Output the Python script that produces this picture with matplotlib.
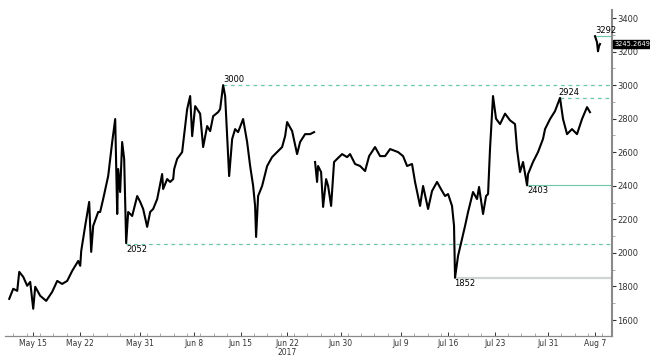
import numpy as np
import pandas as pd
import matplotlib
matplotlib.use("Agg")
import matplotlib.pyplot as plt
import matplotlib.dates as mdates

# %% data (days counted from 2017-05-15, price in USD)
base = pd.Timestamp("2017-05-15")
nan = np.nan

days = [-3.59, -2.99, -2.39, -2.09, -1.49, -0.90, -0.45, 0.00, 0.30, 1.05,
        1.94, 2.84, 3.59, 4.33, 5.08, 5.83, 6.73, 7.03, 7.18, 7.77,
        8.37, 8.67, 8.97, 9.72, 10.01, 10.46, 11.21, 11.81, 12.26, 12.56,
        12.71, 13.00, 13.30, 13.60, 13.90, 14.20, 14.80, 15.55, 16.00, 16.44,
        17.04, 17.49, 17.94, 18.54, 19.28, 19.43, 20.03, 20.48, 20.93, 21.08,
        21.52, 22.27, 22.72, 23.02, 23.47, 23.77, 24.22, 24.96, 25.41, 26.01,
        26.46, 26.91, 27.65, 27.95, 28.40, 28.70, 29.00, 29.30, 29.75, 30.19,
        30.64, 31.39, 31.99, 32.44, 32.89, 33.18, 33.33, 33.63, 34.23, 34.98,
        35.72, 36.47, 37.22, 37.67, 37.97, 38.72, 39.46, 39.91, 40.66, 41.41,
        42.00, 42.07,
        42.15, 42.45, 42.60, 43.05, 43.35, 43.80, 44.10, 44.55, 44.99, 45.44,
        46.19, 46.94, 47.38, 48.13, 48.88, 49.63, 50.23, 51.12, 51.87, 52.62,
        53.37, 54.56, 55.31, 55.91, 56.65, 57.10, 57.85, 58.30, 59.05, 59.64,
        60.39, 61.14, 61.59, 62.04, 62.63, 62.93, 63.08, 63.53, 64.13, 64.58,
        65.03, 65.77, 66.37, 66.67, 67.27, 67.72, 68.02, 68.31, 68.76, 69.21,
        69.81, 70.56, 71.31, 72.05, 72.35, 72.80, 73.25, 73.85, 74.00, 74.74,
        75.49, 76.24, 76.54, 77.29, 78.03, 78.78, 79.23, 79.83, 80.57, 81.32,
        82.07, 82.82, 83.26, 83.60,
        84.01, 84.31, 84.46, 84.61, 84.76]

price = [1726, 1786, 1774, 1887, 1857, 1804, 1827, 1667, 1798, 1744,
         1714, 1768, 1833, 1815, 1833, 1893, 1952, 1923, 2012, 2161,
         2304, 2006, 2161, 2244, 2244, 2321, 2458, 2661, 2798, 2232,
         2500, 2363, 2661, 2560, 2058, 2244, 2220, 2339, 2304, 2262,
         2155, 2244, 2262, 2321, 2470, 2381, 2440, 2423, 2440, 2500,
         2560, 2601, 2756, 2857, 2935, 2696, 2875, 2830, 2631, 2756,
         2726, 2815, 2839, 2857, 3000, 2935, 2696, 2458, 2679, 2738,
         2720, 2798, 2661, 2518, 2399, 2280, 2095, 2339, 2399, 2518,
         2571, 2601, 2631, 2696, 2780, 2726, 2589, 2661, 2708, 2708,
         2720, nan,
         2542, 2423, 2518, 2482, 2274, 2440, 2399, 2280, 2542, 2560,
         2589, 2571, 2589, 2530, 2518, 2488, 2577, 2631, 2577, 2577,
         2619, 2601, 2577, 2518, 2530, 2423, 2280, 2399, 2262, 2369,
         2423, 2369, 2339, 2351, 2280, 2161, 1852, 1982, 2083, 2161,
         2244, 2363, 2321, 2393, 2232, 2339, 2351, 2619, 2935, 2800,
         2768, 2830, 2790, 2768, 2619, 2482, 2542, 2403, 2470, 2542,
         2601, 2680, 2738, 2798, 2845, 2924, 2798, 2708, 2738, 2708,
         2798, 2869, 2839, nan,
         3292, 3256, 3202, 3232, 3245.2649]

# support / resistance marks: (level, start day)
dashed_levels = [3000, 2924, 2052]
dashed_start = [28.40, 78.78, 13.90]
solid_levels = [3292, 2403]
solid_start = [84.01, 73.85]
low_level = 1852
low_start = 63.08
last_value = 3245.2649

tick_days = ["2017-05-15", "2017-05-22", "2017-05-31", "2017-06-08", "2017-06-15",
             "2017-06-22", "2017-06-30", "2017-07-09", "2017-07-16", "2017-07-23",
             "2017-07-31", "2017-08-07"]
tick_labels = ["May 15", "May 22", "May 31", "Jun 8", "Jun 15", "Jun 22",
               "Jun 30", "Jul 9", "Jul 16", "Jul 23", "Jul 31", "Aug 7"]
y_ticks = [1600, 1800, 2000, 2200, 2400, 2600, 2800, 3000, 3200, 3400]

# %% plot
to_date = lambda d: base + pd.to_timedelta(d, unit="D")
dates = to_date(np.array(days))

fig = plt.figure(figsize=(6.5, 3.57), dpi=100)
ax = fig.add_axes([0.008, 0.059, 0.9335, 0.913])

green = "#6cc7a8"
x_end = to_date(86.55)

for lvl, d0 in zip(dashed_levels, dashed_start):
    ax.plot([to_date(d0), x_end], [lvl, lvl], color=green, lw=0.9, ls=(0, (3, 3)))
for lvl, d0 in zip(solid_levels, solid_start):
    ax.plot([to_date(d0), x_end], [lvl, lvl], color=green, lw=0.8)
ax.plot([to_date(low_start), x_end], [low_level, low_level], color="#cfd6d2", lw=1.6)

ax.plot(dates, price, color="black", lw=1.5)

# level labels
lab = dict(fontsize=6, color="black")
ax.text(to_date(28.4), 3008, "3000", ha="left", va="bottom", **lab)
ax.text(to_date(78.6), 2932, "2924", ha="left", va="bottom", **lab)
ax.text(to_date(84.0), 3300, "3292", ha="left", va="bottom", **lab)
ax.text(to_date(13.9), 2045, "2052", ha="left", va="top", **lab)
ax.text(to_date(73.85), 2396, "2403", ha="left", va="top", **lab)
ax.text(to_date(63.0), 1845, "1852", ha="left", va="top", **lab)

ax.annotate(f"{last_value:.4f}", xy=(1.0, last_value), xycoords=("axes fraction", "data"),
            xytext=(1.5, 0), textcoords="offset points", ha="left", va="center",
            fontsize=4.8, color="white",
            bbox=dict(boxstyle="square,pad=0.12", fc="black", ec="black"))

ax.set_xlim(to_date(-4.19), x_end)
ax.set_ylim(1505, 3448)

ax.yaxis.tick_right()
ax.set_yticks(y_ticks)
ax.set_yticklabels([str(v) for v in y_ticks])
ax.set_yticks(np.arange(1600, 3450, 100), minor=True)
ax.tick_params(axis="y", which="major", direction="out", length=3, width=0.8,
               labelsize=6, colors="#333333", pad=1)
ax.tick_params(axis="y", which="minor", direction="out", length=2, width=0.6, colors="#999999")

ax.set_xticks(pd.to_datetime(tick_days))
ax.set_xticklabels(tick_labels)
ax.xaxis.set_minor_locator(mdates.DayLocator(interval=2))
ax.tick_params(axis="x", which="major", direction="in", length=3, width=0.7,
               labelsize=5.5, colors="#333333", pad=2)
ax.tick_params(axis="x", which="minor", direction="in", length=2, width=0.5, colors="#888888")
ax.text(pd.Timestamp("2017-06-22"), -0.038, "2017", transform=ax.get_xaxis_transform(),
        ha="center", va="top", fontsize=5.5, color="#333333")

for s in ["top", "left"]:
    ax.spines[s].set_visible(False)
ax.spines["right"].set_color("#8a8a8a")
ax.spines["right"].set_linewidth(1.5)
ax.spines["bottom"].set_color("#8a8a8a")
ax.spines["bottom"].set_linewidth(0.9)

fig.savefig("out.png", dpi=100)
